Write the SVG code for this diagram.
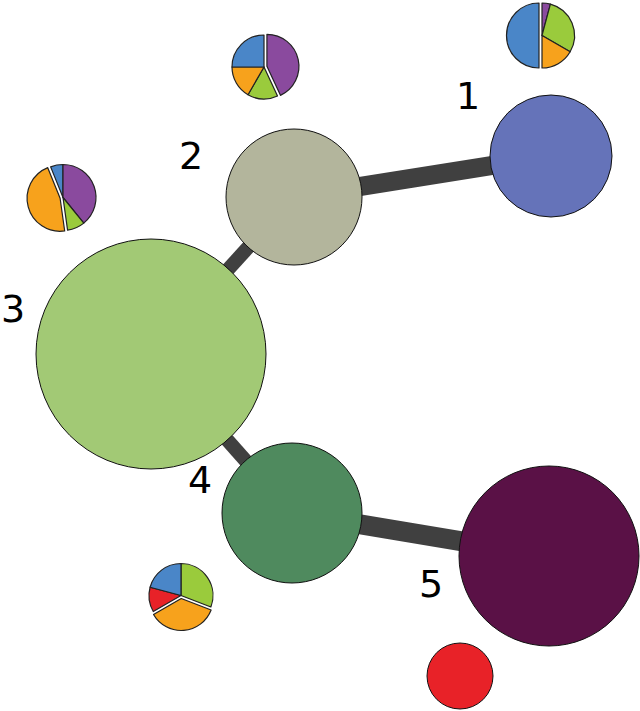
<svg xmlns="http://www.w3.org/2000/svg" width="640" height="711" viewBox="0 0 640 711">
<style>
.edge{stroke:#404040;stroke-linecap:butt;fill:none}
.node{stroke:#111;stroke-width:1}
.lbl{font-family:"DejaVu Sans",sans-serif;font-size:38px;fill:#000;text-anchor:middle}
.pie path{stroke:#222;stroke-width:1.2;stroke-linejoin:round}
.b{fill:#4a86c8}.p{fill:#8a4a9e}.g{fill:#9acb3c}.o{fill:#f7a21c}.r{fill:#e82228}
</style>
<rect width="640" height="711" fill="#fff"/>
<g id="edges">
<line class="edge" x1="294" y1="197" x2="551" y2="156" stroke-width="19"/>
<line class="edge" x1="294" y1="197" x2="151" y2="354" stroke-width="14"/>
<line class="edge" x1="151" y1="354" x2="292" y2="513" stroke-width="14"/>
<line class="edge" x1="292" y1="513" x2="549" y2="556" stroke-width="20"/>
</g>
<g id="node1"><circle class="node" cx="551" cy="156" r="61" fill="#6573b9"/><text class="lbl" x="468" y="109">1</text></g>
<g id="node2"><circle class="node" cx="294" cy="197" r="68" fill="#b3b59c"/><text class="lbl" x="191" y="169">2</text></g>
<g id="node3"><circle class="node" cx="151" cy="354" r="115" fill="#a2c975"/><text class="lbl" x="13" y="322">3</text></g>
<g id="node4"><circle class="node" cx="292" cy="513" r="70" fill="#4f8a5e"/><text class="lbl" x="200" y="493">4</text></g>
<g id="node5"><circle class="node" cx="549" cy="556" r="90" fill="#5a1146"/><text class="lbl" x="431" y="597">5</text></g>
<g id="node6"><circle class="node" cx="460" cy="676" r="33" fill="#e82228"/></g>
<g id="pie1" class="pie">
<path class="p" d="M542,35.5 L542,3 A32.5,32.5 0 0 1 550.41,4.11 Z"/>
<path class="g" d="M542,35.5 L550.41,4.11 A32.5,32.5 0 0 1 570.15,51.75 Z"/>
<path class="o" d="M542,35.5 L570.15,51.75 A32.5,32.5 0 0 1 542,68 Z"/>
<path class="b" d="M539,35.5 L539,68 A32.5,32.5 0 0 1 539,3 Z"/>
</g>
<g id="pie2" class="pie">
<path class="g" d="M264,67 L277.52,96 A32,32 0 0 1 248,94.71 Z"/>
<path class="o" d="M264,67 L248,94.71 A32,32 0 0 1 232,67 Z"/>
<path class="b" d="M264,67 L232,67 A32,32 0 0 1 264,35 Z"/>
<path class="p" d="M266.93,66.35 L266.93,34.35 A32,32 0 0 1 280.45,95.35 Z"/>
</g>
<g id="pie3" class="pie">
<path class="b" d="M63,197.5 L50.64,166.9 A33,33 0 0 1 63,164.5 Z"/>
<path class="p" d="M63,197.5 L63,164.5 A33,33 0 0 1 83.77,223.15 Z"/>
<path class="g" d="M63,197.5 L83.77,223.15 A33,33 0 0 1 67.59,230.18 Z"/>
<path class="o" d="M60.1,198.28 L64.69,230.96 A33,33 0 0 1 47.74,167.68 Z"/>
</g>
<g id="pie4" class="pie">
<path class="g" d="M181,595.5 L181,563.5 A32,32 0 0 1 210.87,606.97 Z"/>
<path class="r" d="M181,595.5 L153.29,611.5 A32,32 0 0 1 150.09,587.22 Z"/>
<path class="b" d="M181,595.5 L150.09,587.22 A32,32 0 0 1 181,563.5 Z"/>
<path class="o" d="M181.24,598.49 L211.11,609.96 A32,32 0 0 1 153.53,614.49 Z"/>
</g>
</svg>
